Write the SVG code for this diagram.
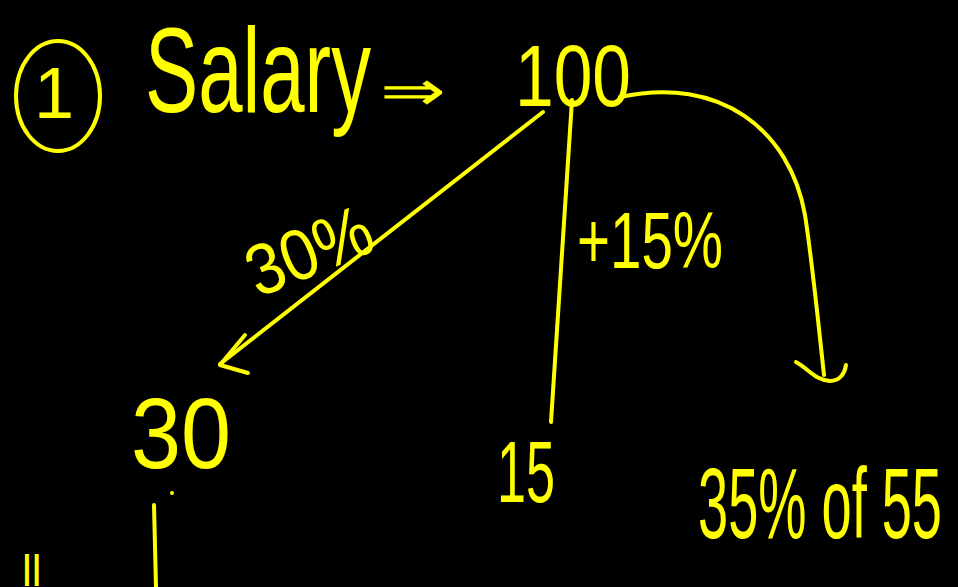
<svg xmlns="http://www.w3.org/2000/svg" width="958" height="587" viewBox="0 0 958 587">
<style>
.t{fill:#ffff00;font-family:"Liberation Sans","Open Sans",sans-serif;font-weight:normal}
.s{fill:none;stroke:#ffff00;stroke-width:4;stroke-linecap:round;stroke-linejoin:round}
</style>
<rect width="958" height="587" fill="#000000"/>
<g id="title">
<ellipse class="s" cx="58" cy="96" rx="42" ry="55"/>
<text class="t" x="34" y="118" font-size="72">1</text>
<text class="t" x="145" y="112" font-size="120" textLength="226" lengthAdjust="spacingAndGlyphs">Salary</text>
<text class="t" x="380" y="110" font-size="56" font-family="DejaVu Sans" textLength="66" lengthAdjust="spacingAndGlyphs">⇒</text>
</g>
<g id="node-100">
<text class="t" x="515" y="106" font-size="88" textLength="116" lengthAdjust="spacingAndGlyphs">100</text>
</g>
<g id="node-30">
<text class="t" x="131" y="468" font-size="100" textLength="100" lengthAdjust="spacingAndGlyphs">30</text>
<circle cx="172" cy="493" r="2" fill="#ffff00"/>
</g>
<g id="node-15">
<text class="t" x="497" y="502" font-size="88" textLength="58" lengthAdjust="spacingAndGlyphs">15</text>
</g>
<g id="node-35">
<text class="t" x="698" y="538" font-size="100" textLength="244" lengthAdjust="spacingAndGlyphs">35% of 55</text>
</g>
<g id="labels">
<text class="t" x="0" y="0" font-size="72" textLength="130" lengthAdjust="spacingAndGlyphs" transform="translate(258 298) rotate(-22)">30%</text>
<text class="t" x="577" y="268" font-size="80" textLength="146" lengthAdjust="spacingAndGlyphs">+15%</text>
<text class="t" x="22" y="586" font-size="44">ll</text>
</g>
<g id="connectors">
<path class="s" d="M543 112 L220 364"/>
<path class="s" d="M245 335 L220 365 L248 373"/>
<path class="s" d="M572 100 L551 422"/>
<path class="s" d="M620 97 C720 75 790 130 805 215 C812 260 818 320 824 375"/>
<path class="s" d="M796 362 C810 370 815 380 830 381 C840 381 845 373 846 365"/>
<path class="s" d="M154 505 L156 587"/>
</g>
</svg>
